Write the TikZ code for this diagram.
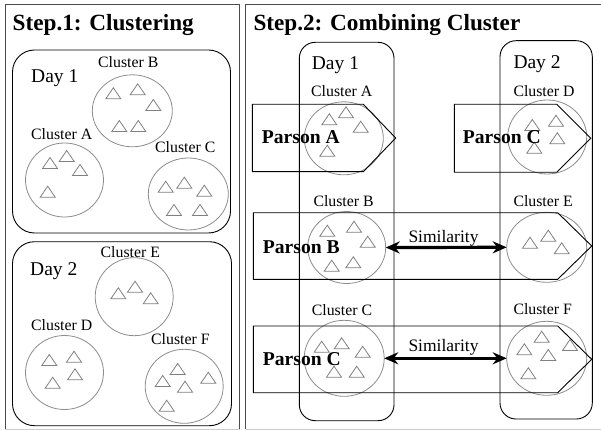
\documentclass[tikz,border=0pt]{standalone}
\usepackage{fontspec}
\setmainfont{Liberation Serif}
\usetikzlibrary{shapes.geometric,arrows.meta}

% small grey triangle, centred on (#1,#2)
\newcommand\tri[2]{\draw[trimark] (#1,#2) +(-7.5,5.5) -- +(7.5,5.5) -- +(0,-5.5) -- cycle;}

\begin{document}
\begin{tikzpicture}[x=1pt,y=-1pt,
  frame/.style={draw=black!70, line width=1pt},
  daybox/.style={draw=black, line width=0.9pt, rounded corners=22pt},
  colbox/.style={draw=black, line width=0.9pt, rounded corners=16pt},
  clus/.style={ellipse, draw=black!45, line width=0.8pt, inner sep=0pt, outer sep=0pt},
  trimark/.style={draw=black!50, line width=0.8pt, line join=miter},
  parson/.style={draw=black, line width=0.9pt},
  title/.style={anchor=base west, inner sep=0pt, font=\fontsize{23.2}{26}\selectfont\bfseries},
  daylbl/.style={anchor=base west, inner sep=0pt, font=\fontsize{19.5}{22}\selectfont},
  lbl/.style={anchor=base west, inner sep=0pt, font=\fontsize{15.8}{18}\selectfont},
  plbl/.style={anchor=base west, inner sep=0pt, font=\fontsize{19.6}{22}\selectfont\bfseries},
  simlbl/.style={anchor=base west, inner sep=0pt, font=\fontsize{17.5}{20}\selectfont},
  sim/.style={line width=3.2pt, {Stealth[length=14pt,width=12pt]}-{Stealth[length=14pt,width=12pt]}}
]
\useasboundingbox (0,0) rectangle (601,430);

% ---------- panel frames ----------
\draw[frame] (5,429) -- (5,4.5) -- (239.5,4.5) -- (239.5,429);
\draw[draw=black!20, line width=1pt] (5,429.3) -- (239.5,429.3);
\draw[frame] (245.5,429) -- (245.5,4.5) -- (601,4.5);
\draw[draw=black!20, line width=1pt] (245.5,429.3) -- (601,429.3);

% ================= Step 1 =================
\node[title] (t1) at (12.5,31) {Step.1: Clustering};

% Day 1 group
\draw[daybox] (12.5,50) rectangle (230.5,233);
\node[daylbl] (d1) at (31,83) {Day 1};

\node[lbl] (lB) at (98,68) {Cluster B};
\node[clus, minimum width=80pt, minimum height=72pt] (cB) at (132.3,110.8) {};
\tri{113.3}{93.3}\tri{137.7}{89.3}\tri{153.3}{105}\tri{119.3}{126}\tri{138.3}{126}

\node[lbl] (lA) at (31,140) {Cluster A};
\node[clus, minimum width=78pt, minimum height=74pt] (cA) at (64.5,180) {};
\tri{50}{163}\tri{66.7}{156}\tri{80}{170}\tri{47.7}{191.7}

\node[lbl] (lC) at (155,153) {Cluster C};
\node[clus, minimum width=80pt, minimum height=72pt] (cC) at (188.3,194) {};
\tri{165.7}{186.7}\tri{184.3}{182.7}\tri{204.3}{190.7}\tri{174}{210}\tri{200}{210}

% Day 2 group
\draw[daybox] (12.5,241.7) rectangle (231.5,425.7);
\node[daylbl] (d2) at (30,275) {Day 2};

\node[lbl] (lE) at (100.5,257) {Cluster E};
\node[clus, minimum width=78pt, minimum height=78pt] (cE) at (134.2,296.7) {};
\tri{118.3}{293.3}\tri{135}{286.7}\tri{150.7}{298.3}

\node[lbl] (lD) at (31,330) {Cluster D};
\node[clus, minimum width=78pt, minimum height=74pt] (cD) at (64.5,372.5) {};
\tri{49.3}{360}\tri{74}{356.7}\tri{75}{374.3}\tri{52.7}{382.7}

\node[lbl] (lF) at (151,344.3) {Cluster F};
\node[clus, minimum width=78pt, minimum height=74pt] (cF) at (184.2,386.3) {};
\tri{177.7}{369}\tri{162.7}{381}\tri{185}{386.7}\tri{208.3}{377.7}\tri{166.7}{405.7}

% ================= Step 2 =================
\node[title] (t2) at (253.3,31) {Step.2: Combining Cluster};

% day columns
\draw[colbox] (299.3,42.3) rectangle (394,420.7);
\draw[colbox] (500,40.7) rectangle (592.3,419);
\node[daylbl] (r1) at (311.7,70) {Day 1};
\node[daylbl] (r2) at (513.3,68.3) {Day 2};

% day 1 clusters
\node[lbl] (rlA) at (311,96.7) {Cluster A};
\node[clus, minimum width=79pt, minimum height=73pt] (rA) at (343.8,138.3) {};
\tri{329.3}{119.3}\tri{346}{112.3}\tri{360.7}{126.7}\tri{327.3}{150.7}

\node[lbl] (rlB) at (313.3,206) {Cluster B};
\node[clus, minimum width=78pt, minimum height=72pt] (rB) at (346.7,247.5) {};
\tri{327.3}{230.7}\tri{354}{226.7}\tri{367.7}{241.7}\tri{331.7}{265.7}\tri{353.3}{262.3}

\node[lbl] (rlC) at (311.7,315) {Cluster C};
\node[clus, minimum width=80pt, minimum height=76pt] (rC) at (344.2,358.3) {};
\tri{321.7}{346.7}\tri{341.7}{343.3}\tri{362.7}{351.7}\tri{334}{371.7}\tri{356.7}{371.7}

% day 2 clusters
\node[lbl] (rlD) at (513.3,96.7) {Cluster D};
\node[clus, minimum width=79pt, minimum height=74pt] (rD) at (547.2,137) {};
\tri{532.3}{125}\tri{556}{120.7}\tri{557.3}{138.3}\tri{534.3}{147.7}

\node[lbl] (rlE) at (513.3,206) {Cluster E};
\node[clus, minimum width=80pt, minimum height=70pt] (rE) at (546.7,247.3) {};
\tri{530}{242.7}\tri{548.3}{235.7}\tri{561.7}{248.3}

\node[lbl] (rlF) at (513.3,314) {Cluster F};
\node[clus, minimum width=80pt, minimum height=74pt] (rF) at (546.7,358.3) {};
\tri{524.3}{349.3}\tri{541.7}{336.7}\tri{548.3}{355}\tri{570}{345}\tri{528.3}{373.3}

% person groupings (pentagon arrows)
\draw[parson] (252.3,104.3) -- (363.3,104.3) -- (395.7,138) -- (363.3,171.7) -- (252.3,171.7) -- cycle;
\node[plbl] (pA) at (261.7,144) {Parson A};

\draw[parson] (454.3,104.3) -- (556.7,104.3) -- (590.7,138.3) -- (556.7,172.3) -- (454.3,172.3) -- cycle;
\node[plbl] (pC1) at (462.7,144) {Parson C};

\draw[parson] (253.3,212.7) -- (557.7,212.7) -- (591.7,246) -- (557.7,279.3) -- (253.3,279.3) -- cycle;
\node[plbl] (pB) at (262.7,253.3) {Parson B};

\draw[parson] (253.3,326) -- (557.7,326) -- (591.7,359.3) -- (557.7,392.7) -- (253.3,392.7) -- cycle;
\node[plbl] (pC2) at (262.7,365) {Parson C};

% similarity links
\draw[sim] (rB.east) -- (rE.west);
\node[simlbl] (s1) at (408.3,242.7) {Similarity};
\draw[sim] (rC.east) -- (rF.west);
\node[simlbl] (s2) at (408.3,351.7) {Similarity};

\end{tikzpicture}
\end{document}
